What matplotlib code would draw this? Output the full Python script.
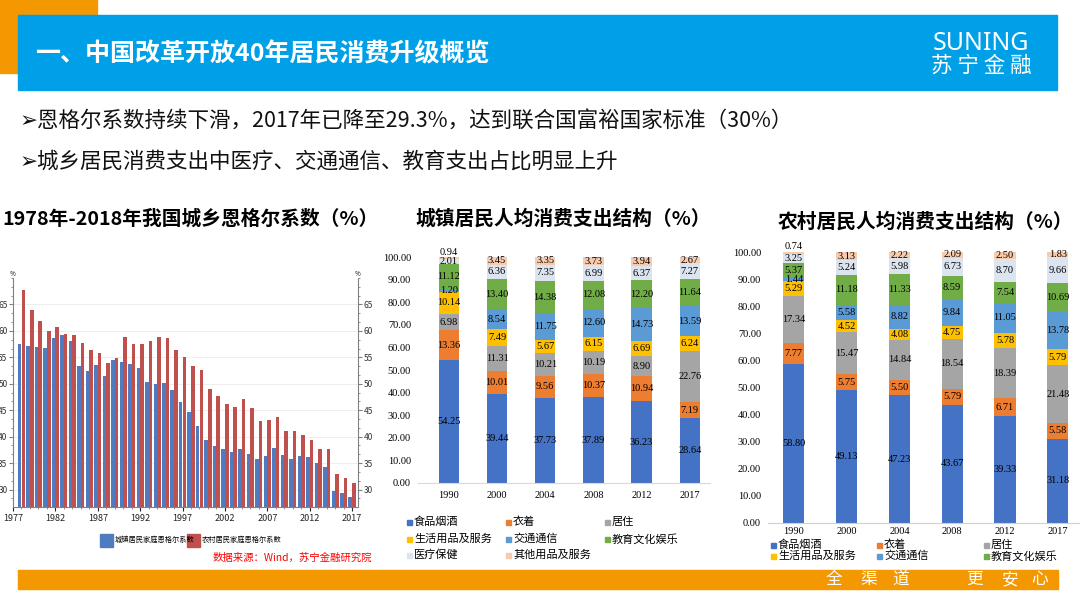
"""
Slide: overview of 40 years of household consumption upgrade in China
"""

import matplotlib

matplotlib.use("Agg")
import matplotlib.pyplot as plt
import numpy as np
from matplotlib import ticker
from matplotlib.patches import Rectangle

plt.rcParams["font.family"] = ["Noto Sans CJK SC", "DejaVu Sans"]

# Engel coefficient, 1978-2017 (%)
years = list(range(1978, 2018))
urban_engel = [57.5, 57.1, 56.9, 56.7, 58.6, 59.2, 58.0, 53.3, 52.4, 53.5,
               51.4, 54.5, 54.2, 53.8, 53.0, 50.3, 50.0, 50.1, 48.8, 46.6,
               44.7, 42.1, 39.4, 38.2, 37.7, 37.1, 37.7, 36.7, 35.8, 36.3,
               37.9, 36.5, 35.7, 36.3, 36.2, 35.0, 34.2, 29.7, 29.3, 28.6]
rural_engel = [67.7, 64.0, 61.8, 59.9, 60.7, 59.4, 59.2, 57.8, 56.4, 55.8,
               54.0, 54.8, 58.8, 57.6, 57.6, 58.1, 58.9, 58.6, 56.3, 55.1,
               53.4, 52.6, 49.1, 47.7, 46.2, 45.6, 47.2, 45.5, 43.0, 43.1,
               43.7, 41.0, 41.1, 40.4, 39.3, 37.7, 37.7, 33.0, 32.2, 31.2]
engel_labels = ["城镇居民家庭恩格尔系数", "农村居民家庭恩格尔系数"]
engel_ticks = list(range(1977, 2018, 5))

# consumption structure (%)
struct_years = ["1990", "2000", "2004", "2008", "2012", "2017"]
categories = ["食品烟酒", "衣着", "居住", "生活用品及服务", "交通通信",
              "教育文化娱乐", "医疗保健", "其他用品及服务"]

urban_food = [54.25, 39.44, 37.73, 37.89, 36.23, 28.64]
urban_clothing = [13.36, 10.01, 9.56, 10.37, 10.94, 7.19]
urban_housing = [6.98, 11.31, 10.21, 10.19, 8.90, 22.76]
urban_household = [10.14, 7.49, 5.67, 6.15, 6.69, 6.24]
urban_transport = [1.20, 8.54, 11.75, 12.60, 14.73, 13.59]
urban_education = [11.12, 13.40, 14.38, 12.08, 12.20, 11.64]
urban_medical = [2.01, 6.36, 7.35, 6.99, 6.37, 7.27]
urban_other = [0.94, 3.45, 3.35, 3.73, 3.94, 2.67]

rural_food = [58.80, 49.13, 47.23, 43.67, 39.33, 31.18]
rural_clothing = [7.77, 5.75, 5.50, 5.79, 6.71, 5.58]
rural_housing = [17.34, 15.47, 14.84, 18.54, 18.39, 21.48]
rural_household = [5.29, 4.52, 4.08, 4.75, 5.78, 5.79]
rural_transport = [1.44, 5.58, 8.82, 9.84, 11.05, 13.78]
rural_education = [5.37, 11.18, 11.33, 8.59, 7.54, 10.69]
rural_medical = [3.25, 5.24, 5.98, 6.73, 8.70, 9.66]
rural_other = [0.74, 3.13, 2.22, 2.09, 2.50, 1.83]

urban_series = [urban_food, urban_clothing, urban_housing, urban_household,
                urban_transport, urban_education, urban_medical, urban_other]
rural_series = [rural_food, rural_clothing, rural_housing, rural_household,
                rural_transport, rural_education, rural_medical, rural_other]

cat_colors = ["#4472C4", "#ED7D31", "#A5A5A5", "#FFC000",
              "#5B9BD5", "#70AD47", "#DCE4F0", "#F8CBAD"]

W, H = 1080, 592
fig = plt.figure(figsize=(W / 100, H / 100), dpi=100)


def px_axes(x0, y0, x1, y1, **kw):
    # axes from pixel box (top-left origin)
    return fig.add_axes([x0 / W, 1 - y1 / H, (x1 - x0) / W, (y1 - y0) / H], **kw)


# ---------------- Engel coefficient chart ----------------
ax1 = px_axes(13, 278, 358, 507)
yrs = np.array(years)
ax1.bar(yrs - 0.215, urban_engel, width=0.42, color="#4F7BC0", zorder=2)
ax1.bar(yrs + 0.215, rural_engel, width=0.42, color="#C0504D", zorder=2)
ax1.set_xlim(1977, 2017.7)
ax1.set_ylim(26.7, 70)
ax1.set_yticks(range(30, 70, 5))
ax1.yaxis.set_minor_locator(ticker.AutoMinorLocator(3))
ax1.set_xticks(engel_ticks)
ax1.xaxis.set_minor_locator(ticker.MultipleLocator(1))
ax1.yaxis.set_ticks_position("both")
ax1.tick_params(axis="y", which="both", labelleft=True, labelright=True,
                labelsize=6, colors="#333333", pad=1)
ax1.tick_params(axis="both", which="major", length=3, color="#808080")
ax1.tick_params(axis="both", which="minor", length=1.5, color="#808080")
ax1.tick_params(axis="x", labelsize=6.5, pad=2, colors="#222222")
ax1.grid(axis="y", color="#EBEBEB", linewidth=0.6, zorder=0)
ax1.spines["top"].set_visible(False)
for s in ["left", "right", "bottom"]:
    ax1.spines[s].set_color("#808080")
    ax1.spines[s].set_linewidth(0.8)
ax1.text(0, 1.0, "%", transform=ax1.transAxes, fontsize=4.5, ha="center", va="bottom")
ax1.text(1, 1.0, "%", transform=ax1.transAxes, fontsize=4.5, ha="center", va="bottom")


# ---------------- consumption structure charts ----------------
def stacked(ax, series, width, label_size):
    xs = np.arange(len(struct_years))
    bottom = np.zeros(len(struct_years))
    for vals, color in zip(series, cat_colors):
        ax.bar(xs, vals, width=width, bottom=bottom, color=color, zorder=2)
        for x, b, v in zip(xs, bottom, vals):
            if v < 1.0:
                # very thin top slice: label sits just above the bar
                ax.text(x, b + v + 0.2, f"{v:.2f}", ha="center", va="bottom",
                        fontsize=label_size, family="Liberation Serif", zorder=3)
            else:
                ax.text(x, b + v / 2, f"{v:.2f}", ha="center", va="center",
                        fontsize=label_size, family="Liberation Serif", zorder=3)
        bottom = bottom + np.array(vals)
    ax.set_ylim(0, 100)
    ax.set_yticks(range(0, 101, 10))
    ax.yaxis.set_major_formatter(ticker.FuncFormatter(lambda v, p: f"{v:.2f}"))
    ax.set_xticks(xs)
    ax.set_xticklabels(struct_years)
    for lab in ax.get_xticklabels() + ax.get_yticklabels():
        lab.set_family("Liberation Serif")
        lab.set_fontsize(7.5)
    ax.tick_params(axis="y", length=0, pad=5)
    ax.tick_params(axis="x", length=0, pad=6)
    for s in ["top", "left", "right"]:
        ax.spines[s].set_visible(False)
    ax.spines["bottom"].set_color("#D9D9D9")
    ax.patch.set_alpha(0)


ax2 = px_axes(418, 257, 710, 483)
stacked(ax2, urban_series, 0.42, 7.5)
ax2.set_xlim(-0.64, 5.42)

ax3 = px_axes(768, 252, 1080, 523)
stacked(ax3, rural_series, 0.40, 7.5)
ax3.set_xlim(-0.49, 5.42)
ax3.spines["bottom"].set_color("#D0D0D0")
ax3.tick_params(axis="x", pad=3)

# ---------------- slide decoration ----------------
ov = fig.add_axes([0, 0, 1, 1], zorder=10)
ov.set_xlim(0, W)
ov.set_ylim(H, 0)
ov.axis("off")
ov.patch.set_alpha(0)

ov.add_patch(Rectangle((0, 0), 97, 73, color="#F39800", zorder=1))
ov.add_patch(Rectangle((18, 15), 1039, 75, color="#00A0E9", zorder=2))
ov.text(35, 54, "一、中国改革开放40年居民消费升级概览", color="white", fontsize=18,
        fontweight="bold", va="center", ha="left", zorder=3)
ov.text(981, 43, "SUNING", color="white", fontsize=18, family="Noto Sans",
        va="center", ha="center", zorder=3)
ov.text(981, 66, "苏 宁 金 融", color="white", fontsize=15.5, va="center",
        ha="center", zorder=3)

ov.text(20, 121, "➢恩格尔系数持续下滑，2017年已降至29.3%，达到联合国富裕国家标准（30%）",
        fontsize=15.5, va="center", ha="left", color="#111111")
ov.text(20, 162, "➢城乡居民消费支出中医疗、交通通信、教育支出占比明显上升",
        fontsize=15.5, va="center", ha="left", color="#111111")

ov.text(2, 219, "1978年-2018年我国城乡恩格尔系数（%）", fontsize=14.2, fontweight="bold",
        va="center", ha="left")
ov.text(415, 219, "城镇居民人均消费支出结构（%）", fontsize=14.2, fontweight="bold",
        va="center", ha="left")
ov.text(778, 222, "农村居民人均消费支出结构（%）", fontsize=14.2, fontweight="bold",
        va="center", ha="left")


def manual_legend(labels, colors, col_x, row_y, size, fontsize):
    for i, (lab, col) in enumerate(zip(labels, colors)):
        x = col_x[i % len(col_x)]
        y = row_y[i // len(col_x)]
        ov.add_patch(Rectangle((x, y - size / 2), size, size, color=col))
        ov.text(x + size + 2, y, lab, fontsize=fontsize, va="center", ha="left")


manual_legend(engel_labels, ["#4F7BC0", "#C0504D"], [100, 187], [540], 13, 5.2)
ov.text(372, 558, "数据来源：Wind，苏宁金融研究院", color="#FF0000", fontsize=7.5,
        style="italic", ha="right", va="center")

manual_legend(categories, cat_colors, [407, 506, 605], [522, 539, 555], 5, 8)
manual_legend(categories[:6], cat_colors[:6], [771, 877, 984], [545, 556], 5, 8)

# footer
ov.add_patch(Rectangle((18, 570), 1040, 19, color="#F39800", zorder=5))
for ch, x in zip("全渠道更安心", [834, 869, 901, 974, 1010, 1040]):
    ov.text(x, 579.5, ch, color="white", fontsize=12, ha="center", va="center",
            zorder=6)

plt.savefig("out.png", dpi=100)
